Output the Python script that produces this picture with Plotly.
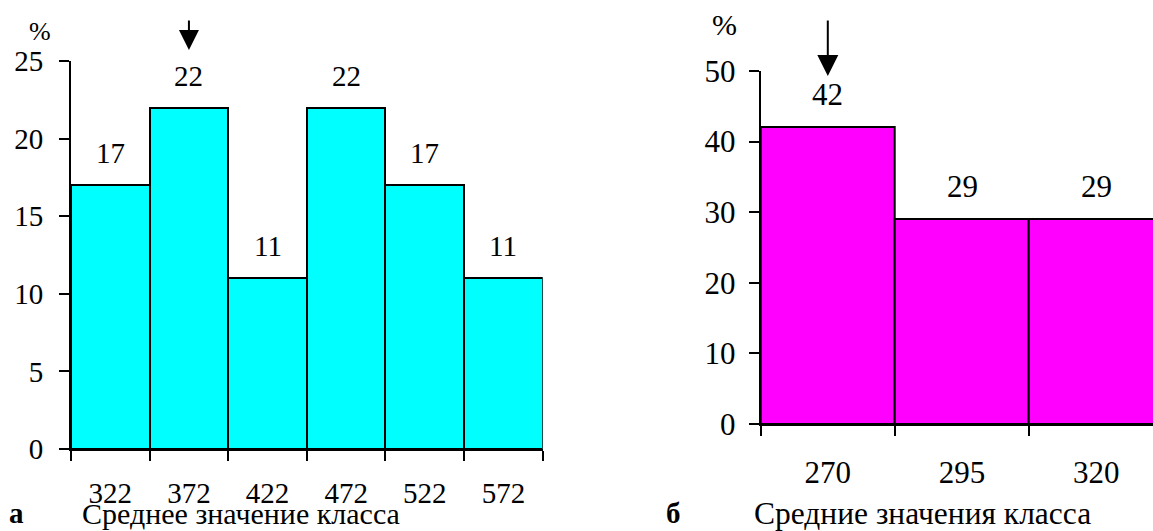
import plotly.graph_objects as go

# ---- data ----
left_classes = [322, 372, 422, 472, 522, 572]
left_pct = [17, 22, 11, 22, 17, 11]
right_classes = [270, 295, 320]
right_pct = [42, 29, 29]
left_arrow_class = 372
right_arrow_class = 270
left_title = "Среднее значение класса"
right_title = "Средние значения класса"
left_letter = "а"
right_letter = "б"

FONT = "'Liberation Serif', 'Times New Roman', Times, 'DejaVu Serif', serif"
W, H = 1153, 531

lw = left_classes[1] - left_classes[0]
rw = right_classes[1] - right_classes[0]
left_edges = [c - lw / 2 for c in left_classes] + [left_classes[-1] + lw / 2]
right_edges = [c - rw / 2 for c in right_classes] + [right_classes[-1] + rw / 2]

def py(px):  # pixel y (from top) -> paper
    return (H - px) / H

def pxx(px):
    return px / W

fig = go.Figure()
fig.add_trace(go.Bar(x=left_classes, y=left_pct, width=lw, xaxis="x", yaxis="y",
                     marker=dict(color="#00FFFF", line=dict(color="black", width=2)),
                     hoverinfo="skip", showlegend=False))
fig.add_trace(go.Bar(x=right_classes, y=right_pct, width=rw, xaxis="x2", yaxis="y2",
                     marker=dict(color="#FF00FF", line=dict(color="black", width=2)),
                     hoverinfo="skip", showlegend=False))

LF, RF = 29, 31
axis_common = dict(showline=True, linecolor="black", linewidth=2, showgrid=False,
                   zeroline=False, fixedrange=True, automargin=False)

fig.update_layout(
    width=W, height=H, autosize=False,
    margin=dict(l=0, r=0, t=0, b=0, pad=0, autoexpand=False),
    paper_bgcolor="white", plot_bgcolor="white",
    bargap=0, showlegend=False,
    xaxis=dict(domain=[pxx(71), pxx(542.7)], range=[left_edges[0], left_edges[-1]],
               anchor="y", tickmode="array", tickvals=left_classes,
               ticktext=[str(c) for c in left_classes], ticks="",
               ticklabelstandoff=17,
               tickfont=dict(family=FONT, size=LF, color="black"),
               minor=dict(tickmode="array", tickvals=left_edges, ticks="outside",
                          ticklen=10, tickwidth=2, tickcolor="black", showgrid=False),
               **axis_common),
    yaxis=dict(domain=[py(449), py(61)], range=[0, 25], anchor="x",
               tickmode="array", tickvals=[0, 5, 10, 15, 20, 25], ticks="outside",
               ticklen=10, tickwidth=2, tickcolor="black", ticklabelstandoff=10,
               tickfont=dict(family=FONT, size=LF, color="black"),
               **axis_common),
    xaxis2=dict(domain=[pxx(760.7), 1.0],
                range=[right_edges[0], right_edges[0] + (W - 760.7) / (134.2 / rw)],
                anchor="y2", tickmode="array", tickvals=right_classes,
                ticktext=[str(c) for c in right_classes], ticks="",
                ticklabelstandoff=20,
                tickfont=dict(family=FONT, size=RF, color="black"),
                minor=dict(tickmode="array", tickvals=right_edges, ticks="outside",
                           ticklen=10, tickwidth=2, tickcolor="black", showgrid=False),
                **axis_common),
    yaxis2=dict(domain=[py(424), py(71)], range=[0, 50], anchor="x2",
                tickmode="array", tickvals=[0, 10, 20, 30, 40, 50], ticks="outside",
                ticklen=10, tickwidth=2, tickcolor="black", ticklabelstandoff=7,
                tickfont=dict(family=FONT, size=RF, color="black"),
                **axis_common),
)

ann = []
# value labels above bars
for c, v in zip(left_classes, left_pct):
    ann.append(dict(x=c, y=v, xref="x", yref="y", text=str(v), showarrow=False,
                    xanchor="center", yanchor="middle", yshift=32,
                    font=dict(family=FONT, size=LF, color="black")))
for c, v in zip(right_classes, right_pct):
    ann.append(dict(x=c, y=v, xref="x2", yref="y2", text=str(v), showarrow=False,
                    xanchor="center", yanchor="middle", yshift=33,
                    font=dict(family=FONT, size=RF, color="black")))

# arrows marking the modal class
ann.append(dict(x=left_arrow_class, y=py(50), xref="x", yref="paper", ax=0, ay=-31,
                axref="pixel", ayref="pixel", text="", showarrow=True, arrowhead=2,
                arrowwidth=2, arrowsize=2.0, arrowcolor="black", standoff=0))
ann.append(dict(x=right_arrow_class, y=py(76), xref="x2", yref="paper", ax=0, ay=-57,
                axref="pixel", ayref="pixel", text="", showarrow=True, arrowhead=2,
                arrowwidth=2, arrowsize=2.1, arrowcolor="black", standoff=0))

def txt(xp, yp, s, size):
    return dict(x=pxx(xp), y=py(yp), xref="paper", yref="paper", text=s, showarrow=False,
                xanchor="center", yanchor="middle",
                font=dict(family=FONT, size=size, color="black"))

# % units
ann.append(txt(40, 31, "%", 26))
ann.append(txt(724, 24, "%", 30))
# titles and panel letters
ann.append(txt(241, 513, left_title, 30))
ann.append(txt(922, 513, right_title, 31.5))
ann.append(txt(16, 513, "<b>" + left_letter + "</b>", 29))
ann.append(txt(673, 513, "<b>" + right_letter + "</b>", 29))

fig.update_layout(annotations=ann)
fig.write_html("out.html", config={"displayModeBar": False})
